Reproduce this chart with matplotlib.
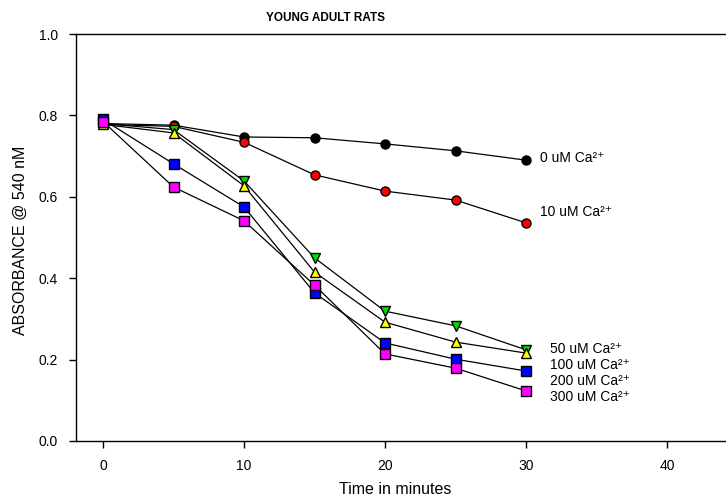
import matplotlib
matplotlib.use("Agg")
import matplotlib.pyplot as plt

plt.rcParams['font.family'] = ['Liberation Sans', 'DejaVu Sans']

time = [0, 5, 10, 15, 20, 25, 30]
ca0 = [0.780, 0.776, 0.747, 0.745, 0.730, 0.713, 0.690]
ca10 = [0.778, 0.773, 0.734, 0.654, 0.614, 0.592, 0.536]
ca50 = [0.780, 0.765, 0.639, 0.450, 0.319, 0.283, 0.224]
ca100 = [0.778, 0.757, 0.627, 0.415, 0.292, 0.243, 0.216]
ca200 = [0.790, 0.681, 0.575, 0.364, 0.241, 0.201, 0.172]
ca300 = [0.785, 0.624, 0.541, 0.383, 0.214, 0.179, 0.123]

labels = ["0 uM Ca\u00b2\u207a", "10 uM Ca\u00b2\u207a", "50 uM Ca\u00b2\u207a",
          "100 uM Ca\u00b2\u207a", "200 uM Ca\u00b2\u207a", "300 uM Ca\u00b2\u207a"]
label_y = [0.695, 0.562, 0.226, 0.186, 0.147, 0.108]
label_x = [31.0, 31.0, 31.7, 31.7, 31.7, 31.7]
xticks = [0, 10, 20, 30, 40]
yticks = [0.0, 0.2, 0.4, 0.6, 0.8, 1.0]

series = [ca0, ca10, ca50, ca100, ca200, ca300]
colors = ['black', 'red', '#00dd00', 'yellow', 'blue', 'magenta']
markers = ['o', 'o', 'v', '^', 's', 's']

W, H = 726, 499
fig = plt.figure(figsize=(W / 100, H / 100), dpi=100)
left_px, bottom_px, height_px = 76, 58, 407
right_px = 740
ax = fig.add_axes([left_px / W, bottom_px / H, (right_px - left_px) / W, height_px / H])
ppm = 14.1
x0 = -(103 - left_px) / ppm
ax.set_xlim(x0, x0 + (right_px - left_px) / ppm)
ax.set_ylim(0, 1.0)

for ys, c, m in zip(series, colors, markers):
    ax.plot(time, ys, color='black', lw=0.9, marker=m, markersize=6.5,
            markerfacecolor=c, markeredgecolor='black', markeredgewidth=1.0, zorder=3)

for lx, ly, lab in zip(label_x, label_y, labels):
    ax.text(lx, ly, lab, fontsize=10, ha='left', va='center', color='black')

ax.set_xticks(xticks)
ax.set_yticks(yticks)
ax.set_yticklabels([f"{v:.1f}" for v in yticks])
ax.tick_params(direction='out', length=5, width=1, labelsize=10, pad=8)
ax.spines['right'].set_visible(False)
for s in ['left', 'bottom', 'top']:
    ax.spines[s].set_linewidth(1.0)

fig.text(20 / W, 1 - 240 / H, 'ABSORBANCE @ 540 nM', rotation=90, ha='center', va='center', fontsize=11.5)
fig.text(395 / W, 1 - 490 / H, 'Time in minutes', ha='center', va='center', fontsize=11.5)
fig.text(325 / W, 1 - 18 / H, 'YOUNG ADULT RATS', ha='center', va='center', fontsize=8.5, fontweight='bold')

fig.savefig('out.png', dpi=100)
